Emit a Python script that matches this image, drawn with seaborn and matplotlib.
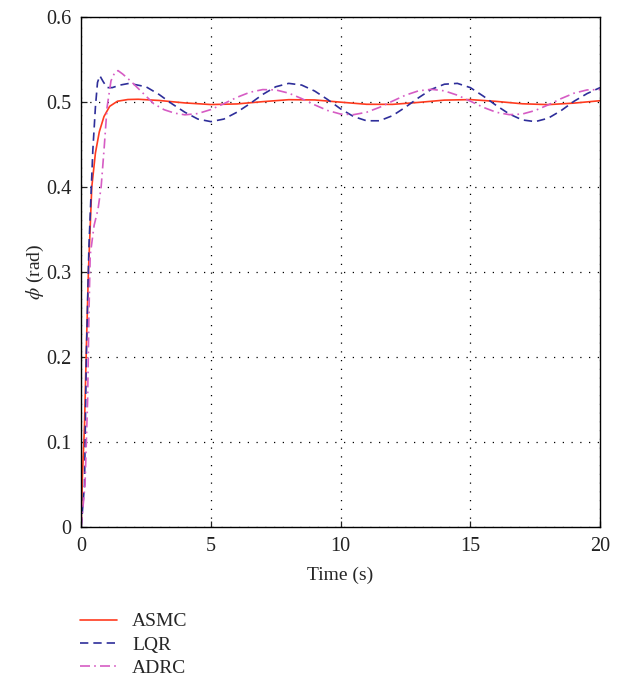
import numpy as np
import pandas as pd
import seaborn as sns
import matplotlib.pyplot as plt

# ASMC response (time, angle)
asmc_t = [0, 0.05, 0.13, 0.2, 0.28, 0.41, 0.55, 0.7, 0.88, 1.1, 1.4, 1.8, 2.2,
          3, 4, 5, 6, 7, 8, 9, 10, 11, 12, 13, 14, 15, 16, 17, 18, 19, 20]
asmc_y = [0, 0.06, 0.12, 0.21, 0.30, 0.40, 0.44, 0.465, 0.483, 0.495, 0.501, 0.503, 0.5033,
          0.5019, 0.4990, 0.4971, 0.4978, 0.5005, 0.5028, 0.5025, 0.4999, 0.4974, 0.4973,
          0.4996, 0.5023, 0.5029, 0.5008, 0.4980, 0.4970, 0.4988, 0.5016]

# LQR response
lqr_t = [0, 0.13, 0.2, 0.3, 0.45, 0.55, 0.63, 0.72, 0.85, 1.0, 1.2, 1.5, 1.85,
         2.5, 3.0, 3.5, 4.0, 4.5, 5.0, 5.5, 6.0, 6.5, 7.0, 7.5, 8.0, 8.5, 9.0, 9.5,
         10.0, 10.5, 11.0, 11.5, 12.0, 12.5, 13.0, 13.5, 14.0, 14.5, 15.0, 15.5,
         16.0, 16.5, 17.0, 17.5, 18.0, 18.5, 19.0, 19.5, 20.0]
lqr_y = [0, 0.05, 0.2, 0.33, 0.443, 0.494, 0.523, 0.531, 0.524, 0.517, 0.517, 0.520, 0.522,
         0.518, 0.509, 0.498, 0.488, 0.480, 0.477, 0.480, 0.488, 0.498, 0.509, 0.518,
         0.522, 0.520, 0.513, 0.503, 0.492, 0.483, 0.478, 0.478, 0.484, 0.494, 0.505,
         0.515, 0.521, 0.522, 0.517, 0.507, 0.496, 0.486, 0.479, 0.477, 0.481, 0.490,
         0.501, 0.510, 0.517]

# ADRC response
adrc_t = [0, 0.15, 0.25, 0.3, 0.35, 0.5, 0.65, 0.77, 0.88, 1.0, 1.15, 1.3, 1.42, 1.6,
          1.9, 2.2, 2.5, 2.8, 3.2, 3.6, 4.0, 4.5, 5.0, 5.5, 6.0, 6.5, 7.0, 7.5, 8.0,
          8.5, 9.0, 9.5, 10.0, 10.5, 11.0, 11.5, 12.0, 12.5, 13.0, 13.5, 14.0, 14.5,
          15.0, 15.5, 16.0, 16.5, 17.0, 17.5, 18.0, 18.5, 19.0, 19.5, 20.0]
adrc_y = [0, 0.05, 0.15, 0.25, 0.32, 0.355, 0.374, 0.40, 0.443, 0.494, 0.525, 0.535,
          0.537, 0.533, 0.525, 0.516, 0.507, 0.498, 0.491, 0.487, 0.485, 0.4865, 0.4912,
          0.4981, 0.5055, 0.5115, 0.5147, 0.5143, 0.5105, 0.5041, 0.4967, 0.4901, 0.4859,
          0.4852, 0.4880, 0.4938, 0.5011, 0.5081, 0.5132, 0.5150, 0.5132, 0.5081, 0.5011,
          0.4938, 0.4880, 0.4852, 0.4859, 0.4901, 0.4967, 0.5041, 0.5105, 0.5143, 0.5147]

x_ticks = [0, 5, 10, 15, 20]
y_ticks = [0, 0.1, 0.2, 0.3, 0.4, 0.5, 0.6]
y_ticklabels = ['0', '0.1', '0.2', '0.3', '0.4', '0.5', '0.6']

sns.set_style('white')
plt.rcParams['font.family'] = ['Liberation Serif', 'DejaVu Serif']
plt.rcParams['mathtext.fontset'] = 'stix'

fig = plt.figure(figsize=(6.29, 6.82), dpi=100)
ax = fig.add_axes([0.129, 0.227, 0.825, 0.748])

df = pd.concat([
    pd.DataFrame({'t': asmc_t, 'y': asmc_y, 'ctrl': 'ASMC'}),
    pd.DataFrame({'t': lqr_t, 'y': lqr_y, 'ctrl': 'LQR'}),
    pd.DataFrame({'t': adrc_t, 'y': adrc_y, 'ctrl': 'ADRC'}),
])

styles = {'ASMC': ('#ff3b1f', '-'), 'LQR': ('#2e2e9a', (0, (5, 3))),
          'ADRC': ('#d65cc4', (0, (6, 2.5, 1, 2.5)))}
for name in ['ASMC', 'LQR', 'ADRC']:
    color, ls = styles[name]
    sns.lineplot(data=df[df['ctrl'] == name], x='t', y='y', ax=ax, color=color,
                 linestyle=ls, linewidth=1.2, label=name, estimator=None, sort=False)

ax.set_xlim(0, 20)
ax.set_ylim(0, 0.6)
ax.set_xticks(x_ticks)
ax.set_yticks(y_ticks)
ax.set_yticklabels(y_ticklabels)
ax.grid(True, color='black', linestyle=(0, (1, 6)), linewidth=0.9)
for s in ax.spines.values():
    s.set_visible(True)
    s.set_color('black')
    s.set_linewidth(1.0)
ax.tick_params(direction='in', length=4, width=0.9, labelsize=14.5, colors='#222222',
               top=False, right=False, bottom=True, left=True, pad=7)
ax.set_xlabel('Time (s)', fontsize=14, labelpad=8)
ax.set_ylabel(r'$\phi$ (rad)', fontsize=14, labelpad=0)

ax.get_legend().remove()
h, l = ax.get_legend_handles_labels()
fig.legend(h, l, loc='upper left', bbox_to_anchor=(0.1, 0.127), frameon=False,
           fontsize=14, handlelength=1.9, handletextpad=0.75, labelspacing=0.28)

fig.savefig('out.png', dpi=100)
